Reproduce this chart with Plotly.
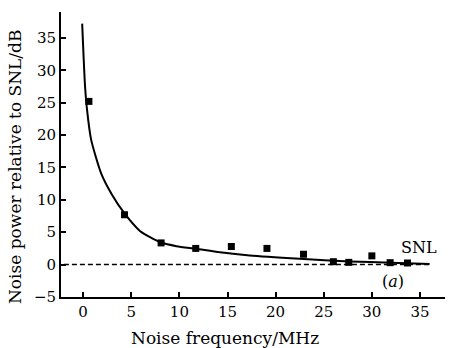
import plotly.graph_objects as go

# measured points (noise frequency MHz, noise power dB rel. SNL)
pt_x = [0.6, 4.3, 8.1, 11.7, 15.4, 19.1, 22.9, 26.0, 27.6, 30.0, 31.9, 33.7]
pt_y = [25.2, 7.7, 3.35, 2.5, 2.8, 2.5, 1.6, 0.45, 0.35, 1.35, 0.3, 0.25]

# fitted curve
curve_x = [-0.1, 0.05, 0.2, 0.4, 0.83, 1.87, 3.0, 4.3, 5.9, 7.0, 8.05, 9.7, 11.7, 14.2, 17.3, 22.5, 27.7, 32.0, 36.0]
curve_y = [37.2, 32.0, 27.5, 24.0, 19.3, 14.1, 10.8, 7.9, 5.2, 4.2, 3.45, 2.85, 2.45, 1.9, 1.4, 0.9, 0.5, 0.3, 0.1]

# shot-noise level reference
snl_x = [-2.0, 36.0]
snl_y = [0, 0]

x_ticks = [0, 5, 10, 15, 20, 25, 30, 35]
y_ticks = [-5, 0, 5, 10, 15, 20, 25, 30, 35]

FONT = "DejaVu Serif"

fig = go.Figure()
fig.add_trace(go.Scatter(x=snl_x, y=snl_y, mode="lines",
                         line=dict(color="black", width=1.5, dash="5px,3px"),
                         hoverinfo="skip"))
fig.add_trace(go.Scatter(x=curve_x, y=curve_y, mode="lines",
                         line=dict(color="black", width=2, shape="spline", smoothing=0.6)))
fig.add_trace(go.Scatter(x=pt_x, y=pt_y, mode="markers",
                         marker=dict(symbol="square", size=7, color="black")))

fig.update_layout(
    width=453, height=348,
    margin=dict(l=61, r=8, t=12, b=51),
    paper_bgcolor="white", plot_bgcolor="white",
    showlegend=False,
    font=dict(family=FONT, color="black", size=15),
    xaxis=dict(range=[-2.3, 37.6], tickvals=x_ticks, ticks="inside", ticklen=5,
               tickwidth=1.5, tickcolor="black", showline=True, linecolor="black",
               linewidth=2, showgrid=False, zeroline=False,
               tickfont=dict(family=FONT, size=15, color="black")),
    yaxis=dict(range=[-5, 39], tickvals=y_ticks, ticks="inside", ticklen=5,
               tickwidth=1.5, tickcolor="black", showline=True, linecolor="black",
               linewidth=2, showgrid=False, zeroline=False,
               tickfont=dict(family=FONT, size=15, color="black")),
    annotations=[
        dict(text="Noise frequency/MHz", xref="paper", yref="paper",
             x=(224.5 - 61) / 384, y=-(338 - 297) / 285, xanchor="center", yanchor="middle",
             showarrow=False, font=dict(family=FONT, size=17, color="black")),
        dict(text="Noise power relative to SNL/dB", xref="paper", yref="paper",
             x=-(61 - 15) / 384, y=(297 - 167) / 285, xanchor="center", yanchor="middle",
             textangle=-90, showarrow=False, font=dict(family=FONT, size=17, color="black")),
        dict(text="SNL", x=34.9, y=2.6, xref="x", yref="y", showarrow=False,
             font=dict(family=FONT, size=16, color="black")),
        dict(text="(<i>a</i>)", x=32.2, y=-2.6, xref="x", yref="y", showarrow=False,
             font=dict(family=FONT, size=16, color="black")),
    ],
)

fig.write_html("out.html", config={"displayModeBar": False},
               post_script="document.body.style.margin='0';")
